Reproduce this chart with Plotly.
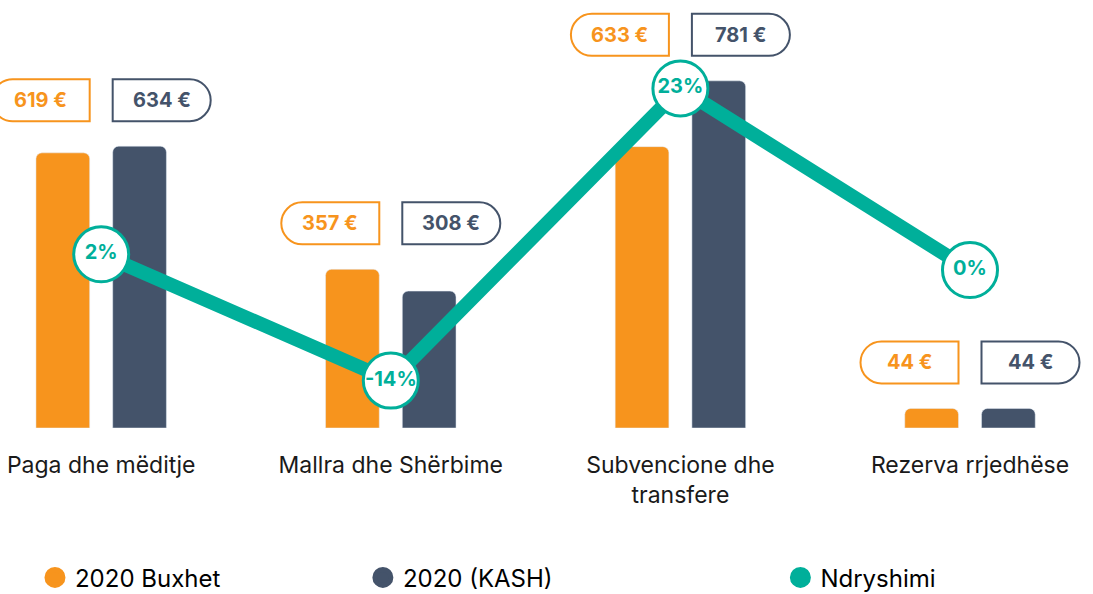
import plotly.graph_objects as go

categories = ["Paga dhe mëditje", "Mallra dhe Shërbime", "Subvencione dhe<br>transfere", "Rezerva rrjedhëse"]
buxhet_2020 = [619, 357, 633, 44]
kash_2020 = [634, 308, 781, 44]
ndryshimi = [2, -14, 23, 0]

ORANGE = "#F7941D"
DARK = "#44536A"
TEAL = "#00AF9A"
FONT = "Inter"

fig = go.Figure()

fig.add_trace(go.Bar(
    x=categories, y=buxhet_2020, name="2020 Buxhet",
    marker=dict(color=ORANGE, cornerradius=6), showlegend=False,
))
fig.add_trace(go.Bar(
    x=categories, y=kash_2020, name="2020 (KASH)",
    marker=dict(color=DARK, cornerradius=6), showlegend=False,
))
fig.add_trace(go.Scatter(
    x=categories, y=ndryshimi, yaxis="y2", name="Ndryshimi",
    mode="lines+markers+text",
    line=dict(color=TEAL, width=14),
    marker=dict(size=55, color="white", line=dict(color=TEAL, width=3)),
    text=[f"{v}%" for v in ndryshimi],
    textposition="middle center",
    textfont=dict(family=FONT, size=20, color=TEAL, weight=700),
    showlegend=False,
))

# legend entries (round swatches), one legend each so they sit where the original puts them
for name, color, lg in [("2020 Buxhet", ORANGE, "legend"), ("2020 (KASH)", DARK, "legend2"), ("Ndryshimi", TEAL, "legend3")]:
    fig.add_trace(go.Scatter(
        x=[None], y=[None], mode="markers", name=name, legend=lg,
        marker=dict(size=26, color=color, line=dict(color=color, width=5)),
    ))


def half_pill(left_round, x_left, x_right, y_bot, y_top):
    r = (y_top - y_bot) / 2
    cy = (y_top + y_bot) / 2
    k = 0.5523 * r
    if left_round:
        a = x_left + r
        return (f"M {x_right},{y_bot} L {x_right},{y_top} L {a},{y_top} "
                f"C {a - k},{y_top} {x_left},{cy + k} {x_left},{cy} "
                f"C {x_left},{cy - k} {a - k},{y_bot} {a},{y_bot} Z")
    b = x_right - r
    return (f"M {x_left},{y_bot} L {x_left},{y_top} L {b},{y_top} "
            f"C {b + k},{y_top} {x_right},{cy + k} {x_right},{cy} "
            f"C {x_right},{cy - k} {b + k},{y_bot} {b},{y_bot} Z")


for i, (b, k) in enumerate(zip(buxhet_2020, kash_2020)):
    top = max(b, k)
    for val, color, left in [(b, ORANGE, True), (k, DARK, False)]:
        if left:
            path = half_pill(True, -109.5, -11.5, 25, 67)
            shift = -60.5
        else:
            path = half_pill(False, 11.5, 109.5, 25, 67)
            shift = 60.5
        fig.add_shape(
            type="path", path=path, xref="x", yref="y",
            xsizemode="pixel", ysizemode="pixel", xanchor=i, yanchor=top,
            line=dict(color=color, width=2), fillcolor="white",
        )
        fig.add_annotation(
            x=i, y=top, xref="x", yref="y", xshift=shift, yshift=46,
            text=f"{val} €", showarrow=False,
            font=dict(family=FONT, size=20, color=color, weight=700),
        )

legend_style = dict(orientation="h", y=-0.35, xanchor="left", yanchor="middle",
                    font=dict(family=FONT, size=24, color="black"))

fig.update_layout(
    width=1093, height=594,
    margin=dict(l=0, r=0, t=0, b=166, autoexpand=False),
    plot_bgcolor="white", paper_bgcolor="white",
    barmode="group", bargap=0.47, bargroupgap=0.3,
    xaxis=dict(
        type="category", range=[-0.3494, 3.4247],
        showgrid=False, zeroline=False, showline=False, ticks="",
        ticklabelstandoff=21,
        tickfont=dict(family=FONT, size=23, color="#1a1a1a"),
    ),
    yaxis=dict(range=[0, 962.9], visible=False),
    yaxis2=dict(range=[-20.0, 34.2], overlaying="y", visible=False),
    legend=dict(x=0.032, **legend_style),
    legend2=dict(x=0.332, **legend_style),
    legend3=dict(x=0.714, **legend_style),
)

fig.write_html("out.html", config={"displayModeBar": False},
               post_script="document.body.style.margin='0';")
